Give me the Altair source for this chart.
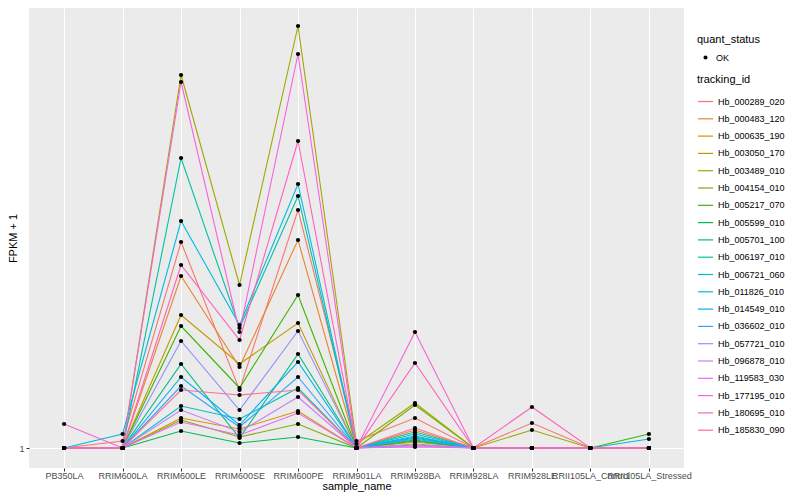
import altair as alt
import pandas as pd

samples = ["PB350LA", "RRIM600LA", "RRIM600LE", "RRIM600SE", "RRIM600PE",
           "RRIM901LA", "RRIM928BA", "RRIM928LA", "RRIM928LE",
           "RRII105LA_Control", "RRII105LA_Stressed"]

tracking_ids = ["Hb_000289_020", "Hb_000483_120", "Hb_000635_190", "Hb_003050_170",
                "Hb_003489_010", "Hb_004154_010", "Hb_005217_070", "Hb_005599_010",
                "Hb_005701_100", "Hb_006197_010", "Hb_006721_060", "Hb_011826_010",
                "Hb_014549_010", "Hb_036602_010", "Hb_057721_010", "Hb_096878_010",
                "Hb_119583_030", "Hb_177195_010", "Hb_180695_010", "Hb_185830_090"]

colors = ["#F8766D", "#EA8331", "#D89000", "#C09B00", "#A3A500", "#7CAE00",
          "#39B600", "#00BB4E", "#00BF7D", "#00C1A3", "#00BFC4", "#00BAE0",
          "#00B0F6", "#35A2FF", "#9590FF", "#C77CFF", "#E76BF3", "#FA62DB",
          "#FF62BC", "#FF6C91"]

# FPKM + 1 per tracking_id, in sample order
fpkm = [
    [1, 1.7, 21.6, 6.8, 24.8, 1.7, 4.0, 1, 3.5, 1, 1],
    [1, 1, 18.2, 9.1, 21.8, 1, 2.8, 1, 1, 1, 1],
    [1, 1, 4.0, 2.9, 4.7, 1, 1.3, 1, 1, 1, 1],
    [1, 1, 14.3, 9.4, 13.5, 1, 1.6, 1, 1, 1, 1],
    [1, 1, 38.3, 17.3, 43.2, 1.4, 5.5, 1, 2.8, 1, 1],
    [1, 1, 3.8, 2.1, 3.4, 1, 5.3, 1, 1, 1, 1],
    [1, 1, 13.2, 7.0, 16.3, 1, 1.7, 1, 1, 1, 2.4],
    [1, 1, 2.7, 1.5, 2.1, 1, 1.8, 1, 1, 1, 1],
    [1, 1, 9.4, 2.0, 10.4, 1, 2.0, 1, 1, 1, 1],
    [1, 1, 30.0, 13.0, 26.2, 1, 2.6, 1, 1, 1, 1],
    [1, 1, 5.2, 3.9, 7.0, 1, 2.4, 1, 1, 1, 1],
    [1, 2.4, 23.7, 13.3, 27.4, 1, 2.2, 1, 1, 1, 1.9],
    [1, 1, 8.1, 3.3, 9.6, 1, 2.1, 1, 1, 1, 1],
    [1, 1, 7.2, 3.1, 8.1, 1, 1.9, 1, 1, 1, 1],
    [1, 1, 11.7, 4.8, 12.7, 1, 1.4, 1, 1, 1, 1],
    [1, 1, 4.8, 2.6, 6.1, 1, 1.2, 1, 1, 1, 1],
    [1, 1, 3.6, 2.3, 4.5, 1, 1.1, 1, 1, 1, 1],
    [3.4, 1, 37.6, 12.6, 40.4, 1, 12.6, 1, 1, 1, 1],
    [1, 1, 19.3, 11.8, 31.7, 1, 9.5, 1, 5.1, 1, 1],
    [1, 1, 6.8, 6.3, 6.8, 1, 3.0, 1, 1, 1, 1],
]

rows = []
for tid, vals in zip(tracking_ids, fpkm):
    for s, v in zip(samples, vals):
        rows.append({"tracking_id": tid, "sample_name": s, "fpkm": v, "quant_status": "OK"})
df = pd.DataFrame(rows)

FONT = "Liberation Sans"

x_enc = alt.X("sample_name:N", sort=samples, title="sample_name",
              scale=alt.Scale(type="point", padding=0.6),
              axis=alt.Axis(labelAngle=0, labelOverlap=False, labelFontSize=9,
                            labelColor="#4D4D4D", tickColor="#333333", tickSize=3,
                            labelPadding=0, grid=True, gridColor="white",
                            gridWidth=1, domain=False, titleFontSize=11,
                            titleFontWeight="normal", titleColor="black",
                            titlePadding=0, labelFont=FONT, titleFont=FONT))
y_enc = alt.Y("fpkm:Q", title="FPKM + 1",
              scale=alt.Scale(domain=[-1, 45], nice=False, zero=False),
              axis=alt.Axis(values=[1], labelFontSize=9, labelColor="#4D4D4D",
                            tickColor="#333333", tickSize=3, labelPadding=2,
                            grid=True, gridColor="white", gridWidth=1,
                            domain=False, titleFontSize=11, titleFontWeight="normal",
                            titleColor="black", titleX=-16, titleBaseline="middle",
                            labelFont=FONT, titleFont=FONT))

lines = alt.Chart(df).mark_line(strokeWidth=1.1).encode(
    x=x_enc, y=y_enc,
    color=alt.Color("tracking_id:N",
                    scale=alt.Scale(domain=tracking_ids, range=colors),
                    legend=alt.Legend(title="tracking_id", orient="none",
                                      legendX=668, legendY=66,
                                      symbolType="stroke", symbolSize=225,
                                      symbolStrokeWidth=1.2, rowPadding=3.3,
                                      labelFontSize=9, titleFontSize=11,
                                      titleFontWeight="normal", labelOffset=4,
                                      titlePadding=8, padding=0,
                                      labelFont=FONT, titleFont=FONT)),
    detail="tracking_id:N",
)

points = alt.Chart(df).mark_point(filled=True, color="black", size=18, opacity=1).encode(
    x=alt.X("sample_name:N", sort=samples),
    y="fpkm:Q",
    shape=alt.Shape("quant_status:N", scale=alt.Scale(range=["circle"]),
                    legend=alt.Legend(title="quant_status", orient="none",
                                      legendX=668, legendY=26,
                                      symbolFillColor="black", symbolStrokeColor="black",
                                      symbolSize=16, labelFontSize=9, titleFontSize=11,
                                      titleFontWeight="normal", labelOffset=6,
                                      titlePadding=8, padding=0, symbolOffset=4,
                                      labelFont=FONT, titleFont=FONT)),
)

chart = alt.layer(lines, points).properties(
    width=655, height=460,
    autosize=alt.AutoSizeParams(type="none"),
    padding={"left": 21, "top": 0, "right": 108, "bottom": 24},
    background="white",
).configure_view(fill="#EBEBEB", stroke=None)

chart.save("out.html", embed_options={"renderer": "svg", "actions": False})
